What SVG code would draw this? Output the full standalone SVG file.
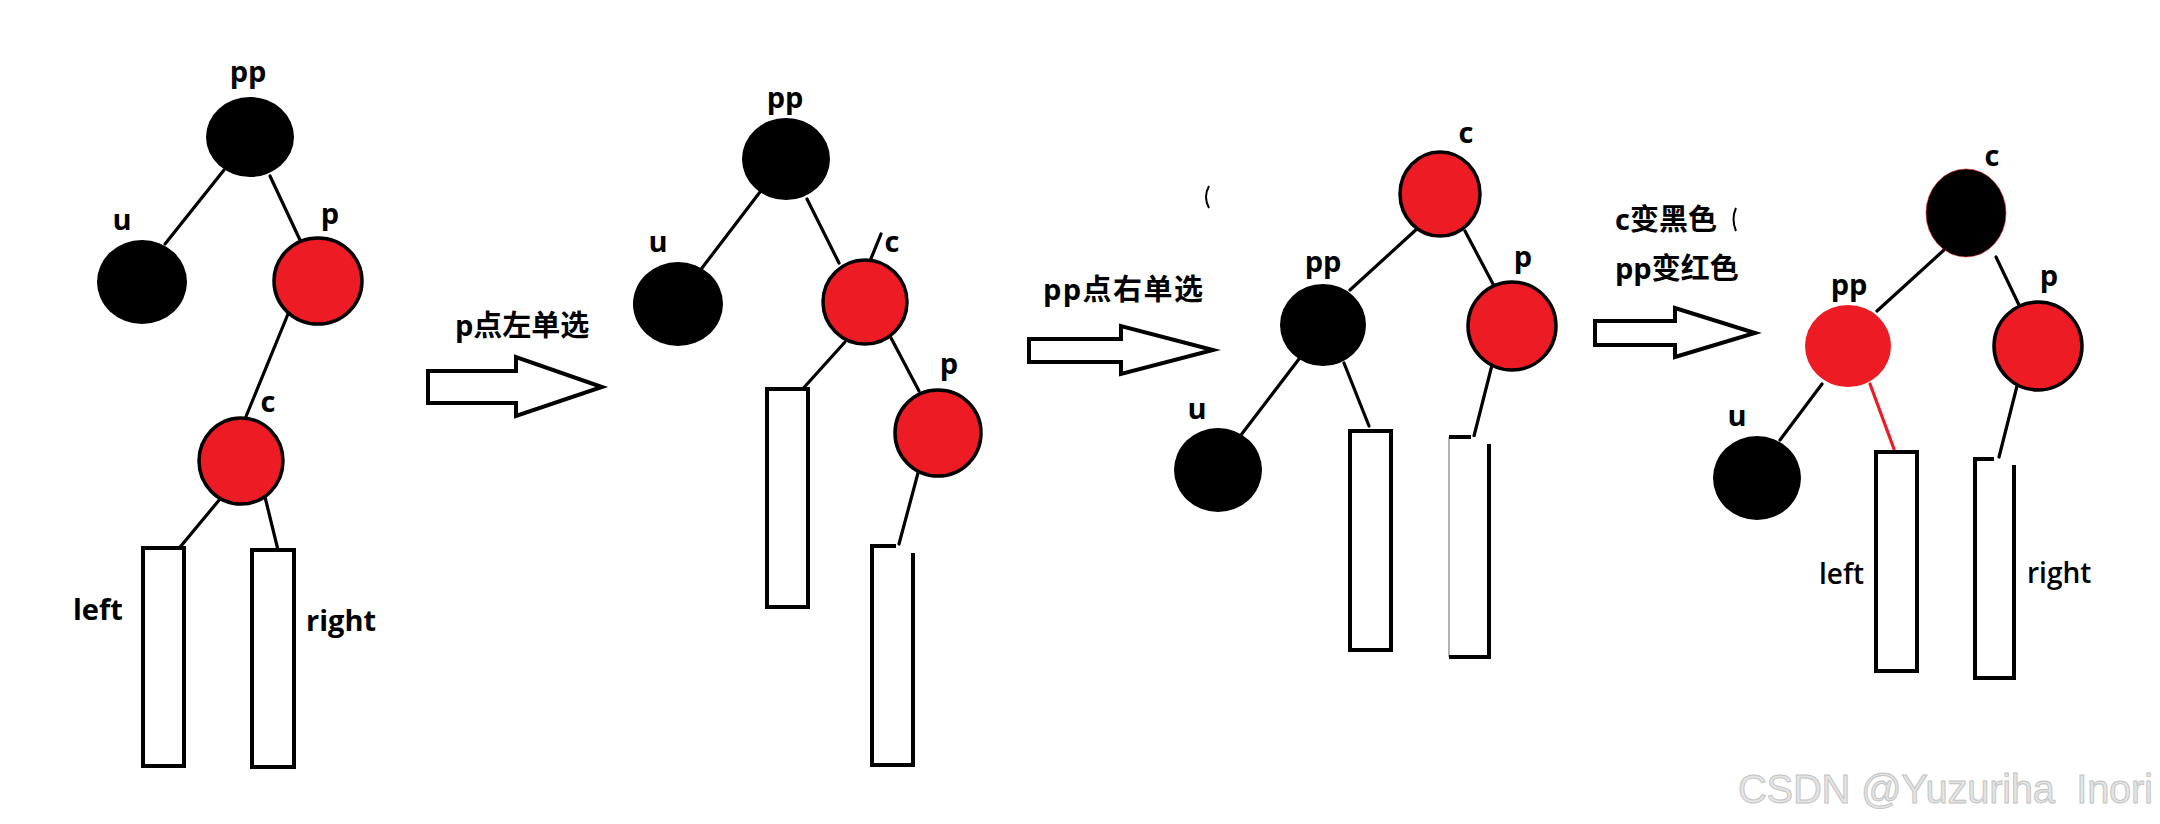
<svg xmlns="http://www.w3.org/2000/svg" width="2160" height="824" viewBox="0 0 2160 824">
<style>
.bg{fill:#ffffff}
.blk{fill:#000000}
.red{fill:#ED1C24;stroke:#000000;stroke-width:3.5}
.redns{fill:#ED1C24}
.edge{stroke:#000000;stroke-width:3.2;stroke-linecap:round;fill:none}
.edgered{stroke:#ED1C24;stroke-width:3.2;stroke-linecap:round;fill:none}
.box{fill:#ffffff;stroke:#000000;stroke-width:4}
.boxo{fill:none;stroke:#000000;stroke-width:4}
.thin{fill:none;stroke:#9a9a9a;stroke-width:1.5}
.lbl{font-family:"Open Sans","Noto Sans CJK SC",sans-serif;font-weight:bold;font-size:29px;fill:#000000}
.lblr{font-family:"Open Sans","Noto Sans CJK SC",sans-serif;font-weight:600;font-size:28px;fill:#000000}
.arrow{fill:#ffffff;stroke:#000000;stroke-width:4;stroke-linejoin:miter}
.wm{font-family:"Liberation Sans",Arial,sans-serif;font-size:40px;fill:#e4e4e4;stroke:#c2c2c2;stroke-width:0.9}
.mark{fill:none;stroke:#000000;stroke-width:2}
</style>
<rect class="bg" x="0" y="0" width="2160" height="824"/>

<g id="connectors">
  <!-- tree 1 -->
  <line class="edge" x1="224" y1="170" x2="165" y2="244"/>
  <line class="edge" x1="270" y1="176" x2="300" y2="240"/>
  <line class="edge" x1="288" y1="314" x2="245" y2="419"/>
  <line class="edge" x1="220" y1="499" x2="176" y2="552"/>
  <line class="edge" x1="265" y1="497" x2="278" y2="550"/>
  <!-- tree 2 -->
  <line class="edge" x1="760" y1="192" x2="702" y2="268"/>
  <line class="edge" x1="807" y1="199" x2="839" y2="263"/>
  <line class="edge" x1="870" y1="261" x2="881" y2="234"/>
  <line class="edge" x1="845" y1="342" x2="799" y2="393"/>
  <line class="edge" x1="890" y1="336" x2="919" y2="391"/>
  <line class="edge" x1="918" y1="473" x2="899" y2="544"/>
  <!-- tree 3 -->
  <line class="edge" x1="1350" y1="290" x2="1419" y2="227"/>
  <line class="edge" x1="1465" y1="231" x2="1493" y2="284"/>
  <line class="edge" x1="1299" y1="359" x2="1241" y2="435"/>
  <line class="edge" x1="1344" y1="363" x2="1369" y2="426"/>
  <line class="edge" x1="1492" y1="365" x2="1474" y2="436"/>
  <!-- tree 4 -->
  <line class="edge" x1="1877" y1="311" x2="1944" y2="250"/>
  <line class="edge" x1="1996" y1="257" x2="2019" y2="305"/>
  <line class="edge" x1="1822" y1="384" x2="1780" y2="440"/>
  <line class="edgered" x1="1870" y1="384" x2="1894" y2="449"/>
  <line class="edge" x1="2017" y1="386" x2="1999" y2="457"/>
</g>

<!-- tree 1 -->
<g id="t1-pp"><ellipse class="blk" cx="250" cy="137" rx="44" ry="40"/><text class="lbl" x="248" y="82" text-anchor="middle">pp</text></g>
<g id="t1-u"><ellipse class="blk" cx="142" cy="282" rx="45" ry="42"/><text class="lbl" x="122" y="230" text-anchor="middle">u</text></g>
<g id="t1-p"><ellipse class="red" cx="318" cy="281" rx="44" ry="43"/><text class="lbl" x="330" y="224" text-anchor="middle">p</text></g>
<g id="t1-c"><ellipse class="red" cx="241" cy="461" rx="42" ry="43"/><text class="lbl" x="268" y="412" text-anchor="middle">c</text></g>
<g id="t1-left"><rect class="box" x="143" y="548" width="41" height="218"/><text class="lbl" x="73" y="620">left</text></g>
<g id="t1-right"><rect class="box" x="252" y="550" width="42" height="217"/><text class="lbl" x="306" y="631">right</text></g>

<!-- arrow 1 -->
<g id="arrow1">
  <polygon class="arrow" points="428,371 516,371 516,357 602,387 516,416 516,403 428,403"/>
  <text class="lbl" x="455" y="336">p点左单选</text>
</g>

<!-- tree 2 -->
<g id="t2-pp"><ellipse class="blk" cx="786" cy="159" rx="44" ry="41"/><text class="lbl" x="785" y="108" text-anchor="middle">pp</text></g>
<g id="t2-u"><ellipse class="blk" cx="678" cy="304" rx="45" ry="42"/><text class="lbl" x="658" y="252" text-anchor="middle">u</text></g>
<g id="t2-c"><ellipse class="red" cx="865" cy="302" rx="42" ry="42"/><text class="lbl" x="892" y="252" text-anchor="middle">c</text></g>
<g id="t2-p"><ellipse class="red" cx="938" cy="433" rx="43" ry="43"/><text class="lbl" x="949" y="374" text-anchor="middle">p</text></g>
<g id="t2-left"><rect class="box" x="767" y="389" width="41" height="218"/></g>
<g id="t2-right"><rect x="872" y="546" width="41" height="219" fill="#ffffff"/><path class="boxo" d="M896,546 H872 V765 H913 V553"/></g>

<!-- arrow 2 -->
<g id="arrow2">
  <polygon class="arrow" points="1029,339 1121,339 1121,326 1213,350 1121,374 1121,362 1029,362"/>
  <text class="lbl" x="1043" y="300" textLength="160" lengthAdjust="spacing">pp点右单选</text>
</g>
<path class="mark" d="M1209,186 Q1203,197 1209,208"/>

<!-- tree 3 -->
<g id="t3-c"><ellipse class="red" cx="1440" cy="194" rx="40" ry="42"/><text class="lbl" x="1466" y="143" text-anchor="middle">c</text></g>
<g id="t3-pp"><ellipse class="blk" cx="1323" cy="325" rx="43" ry="41"/><text class="lbl" x="1323" y="272" text-anchor="middle">pp</text></g>
<g id="t3-p"><ellipse class="red" cx="1512" cy="326" rx="44" ry="44"/><text class="lbl" x="1523" y="267" text-anchor="middle">p</text></g>
<g id="t3-u"><ellipse class="blk" cx="1218" cy="470" rx="44" ry="42"/><text class="lbl" x="1197" y="419" text-anchor="middle">u</text></g>
<g id="t3-left"><rect class="box" x="1350" y="431" width="41" height="219"/></g>
<g id="t3-right"><rect x="1449" y="437" width="40" height="220" fill="#ffffff"/><path class="thin" d="M1449,437 V657"/><path class="boxo" d="M1449,437 H1471 M1489,444 V657 H1449"/></g>

<!-- arrow 3 -->
<g id="arrow3">
  <polygon class="arrow" points="1595,321 1675,321 1675,308 1755,333 1675,357 1675,345 1595,345"/>
  <text class="lbl" x="1615" y="230">c变黑色</text>
  <text class="lbl" x="1615" y="279">pp变红色</text>
</g>
<path class="mark" d="M1736,208 Q1731,219 1736,231"/>

<!-- tree 4 -->
<g id="t4-c"><ellipse class="blk" cx="1966" cy="213" rx="40" ry="44" stroke="#ED1C24" stroke-width="0.6"/><text class="lbl" x="1992" y="166" text-anchor="middle">c</text></g>
<g id="t4-pp"><ellipse class="redns" cx="1848" cy="346" rx="43" ry="41"/><text class="lbl" x="1849" y="295" text-anchor="middle">pp</text></g>
<g id="t4-p"><ellipse class="red" cx="2038" cy="346" rx="44" ry="44"/><text class="lbl" x="2049" y="286" text-anchor="middle">p</text></g>
<g id="t4-u"><ellipse class="blk" cx="1757" cy="478" rx="44" ry="42"/><text class="lbl" x="1737" y="426" text-anchor="middle">u</text></g>
<g id="t4-left"><rect class="box" x="1876" y="452" width="41" height="219"/><text class="lblr" x="1819" y="584">left</text></g>
<g id="t4-right"><rect x="1975" y="459" width="39" height="219" fill="#ffffff"/><path class="boxo" d="M1994,459 H1975 V678 H2014 V465"/><text class="lblr" x="2027" y="583">right</text></g>

<text class="wm" x="1738" y="803" textLength="415" lengthAdjust="spacing">CSDN @Yuzuriha&#160; Inori</text>
</svg>
